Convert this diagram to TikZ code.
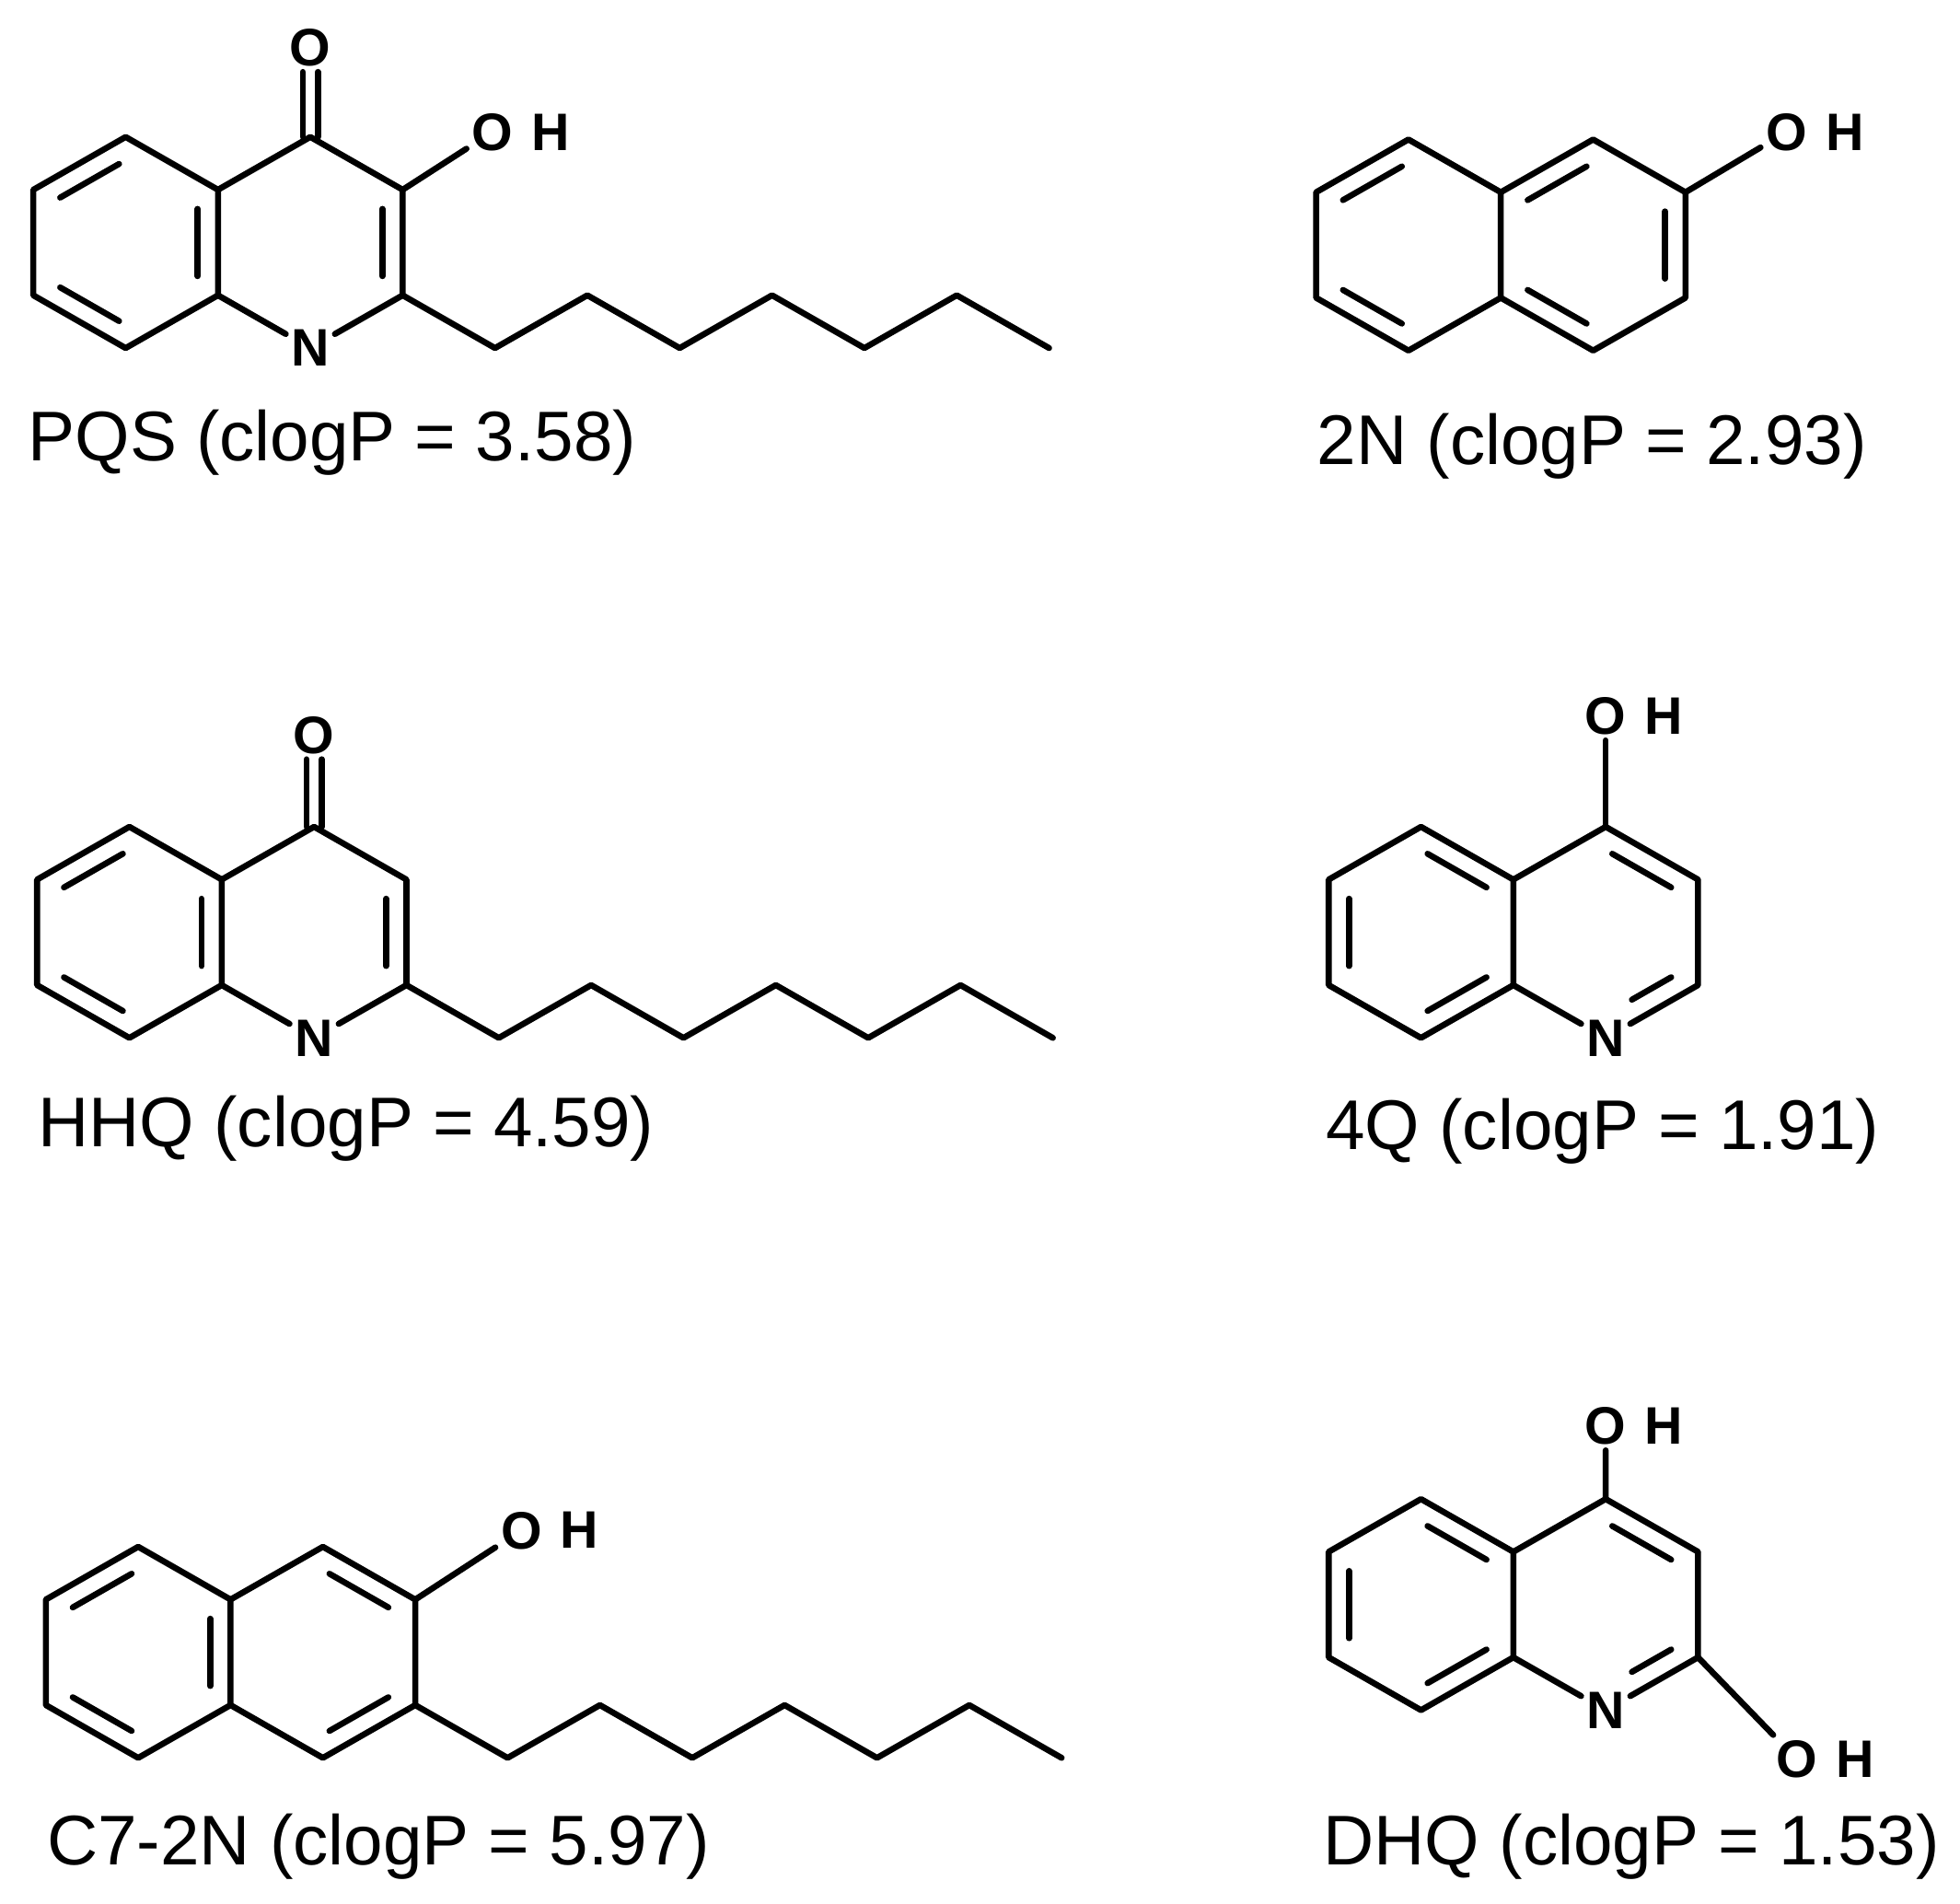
\documentclass[tikz,border=0pt]{standalone}
\usepackage{fontspec}
\setmainfont{Liberation Sans}
\usetikzlibrary{calc}
\newcommand\Lb{84}
\newcommand\Wb{73.5}
% ring: p1 top, p2 UL, p3 LL, p4 bottom, p5 LR, p6 UR, pc center
\newcommand\ring[3]{%
 \coordinate (#1c) at (#2,#3);
 \coordinate (#11) at (#2,#3-\Lb);
 \coordinate (#12) at (#2-\Wb,#3-\Lb/2);
 \coordinate (#13) at (#2-\Wb,#3+\Lb/2);
 \coordinate (#14) at (#2,#3+\Lb);
 \coordinate (#15) at (#2+\Wb,#3+\Lb/2);
 \coordinate (#16) at (#2+\Wb,#3-\Lb/2);}
\newcommand\inb[4][3]{\draw[bond,shorten <=3,shorten >=#1] ($(#4)!0.78!(#2)$) -- ($(#4)!0.78!(#3)$);}
\newcommand\chain[1]{\draw[bond] (#1) -- ++(\Wb,\Lb/2) -- ++(\Wb,-\Lb/2) -- ++(\Wb,\Lb/2) -- ++(\Wb,-\Lb/2) -- ++(\Wb,\Lb/2) -- ++(\Wb,-\Lb/2) -- ++(\Wb,\Lb/2);}
\tikzset{bond/.style={line width=2.4pt,line cap=round,line join=round},
 atom/.style={font=\fontsize{21}{24}\selectfont\bfseries,inner sep=2pt},
 lbl/.style={font=\fontsize{28}{32}\selectfont,anchor=west,inner sep=0pt}}
\begin{document}
\begin{tikzpicture}[x=0.5pt,y=-0.5pt]
\useasboundingbox (0,0) rectangle (1560,1515);
% ---------- PQS
\ring{a}{100}{193}\ring{b}{247}{193}
\node[atom] (aN) at (b4) {N};
\node[atom] (aO) at (247,38) {O};
\node[atom] (aOH) at (392,105) {O};
\node[atom,anchor=west] (aH) at ($(aOH.east)+(6,0)$) {H};
\draw[bond] (a1)--(a2)--(a3)--(a4)--(a5)--(a6)--cycle;
\draw[bond] (a5)--(aN)--(b5)--(b6)--(b1)--(a6);
\inb{a1}{a2}{ac}\inb{a3}{a4}{ac}\inb{a5}{a6}{ac}\inb{b5}{b6}{bc}
\draw[bond] ($(b1)+(-6,0)$)--($(aO.south)+(-6,0)$) ($(b1)+(6,0)$)--($(aO.south)+(6,0)$);
\draw[bond] (b6)--(aOH);
\chain{b5}
\node[lbl] (l1) at (22,352) {PQS (clogP = 3.58)};
% ---------- HHQ
\ring{c}{103}{742}\ring{d}{250}{742}
\node[atom] (cN) at (d4) {N};
\node[atom] (cO) at (250,585) {O};
\draw[bond] (c1)--(c2)--(c3)--(c4)--(c5)--(c6)--cycle;
\draw[bond] (c5)--(cN)--(d5)--(d6)--(d1)--(c6);
\inb{c1}{c2}{cc}\inb{c3}{c4}{cc}\inb{c5}{c6}{cc}\inb{d5}{d6}{dc}
\draw[bond] ($(d1)+(-6,0)$)--($(cO.south)+(-6,0)$) ($(d1)+(6,0)$)--($(cO.south)+(6,0)$);
\chain{d5}
\node[lbl] (l2) at (30,898) {HHQ (clogP = 4.59)};
% ---------- C7-2N
\ring{e}{110}{1315}\ring{f}{257}{1315}
\node[atom] (eOH) at (415,1218) {O};
\node[atom,anchor=west] (eH) at ($(eOH.east)+(6,0)$) {H};
\draw[bond] (e1)--(e2)--(e3)--(e4)--(e5)--(e6)--cycle;
\draw[bond] (e5)--(f4)--(f5)--(f6)--(f1)--(e6);
\inb{e1}{e2}{ec}\inb{e3}{e4}{ec}\inb{e5}{e6}{ec}\inb{f1}{f6}{fc}\inb{f5}{f4}{fc}
\draw[bond] (f6)--(eOH);
\chain{f5}
\node[lbl] (l3) at (37,1470) {C7-2N (clogP = 5.97)};
% ---------- 2N
\ring{g}{1121}{195}\ring{h}{1268}{195}
\node[atom] (gOH) at (1422,105) {O};
\node[atom,anchor=west] (gH) at ($(gOH.east)+(6,0)$) {H};
\draw[bond] (g1)--(g2)--(g3)--(g4)--(g5)--(g6)--cycle;
\draw[bond] (g5)--(h4)--(h5)--(h6)--(h1)--(g6);
\inb{g1}{g2}{gc}\inb{g3}{g4}{gc}\inb{h1}{h2}{hc}\inb{h3}{h4}{hc}\inb{h5}{h6}{hc}
\draw[bond] (h6)--(gOH);
\node[lbl] (l4) at (1048,355) {2N (clogP = 2.93)};
% ---------- 4Q
\ring{i}{1131}{742}\ring{j}{1278}{742}
\node[atom] (iN) at (j4) {N};
\node[atom] (iOH) at (1278,570) {O};
\node[atom,anchor=west] (iH) at ($(iOH.east)+(6,0)$) {H};
\draw[bond] (i1)--(i2)--(i3)--(i4)--(i5)--(i6)--cycle;
\draw[bond] (i5)--(iN)--(j5)--(j6)--(j1)--(i6);
\inb{i1}{i6}{ic}\inb{i2}{i3}{ic}\inb{i4}{i5}{ic}\inb{j1}{j6}{jc}\inb[12]{j5}{j4}{jc}
\draw[bond] (j1)--(iOH);
\node[lbl] (l5) at (1055,900) {4Q (clogP = 1.91)};
% ---------- DHQ
\ring{k}{1131}{1277}\ring{m}{1278}{1277}
\node[atom] (kN) at (m4) {N};
\node[atom] (kOH) at (1278,1135) {O};
\node[atom,anchor=west] (kH) at ($(kOH.east)+(6,0)$) {H};
\node[atom] (kOH2) at (1430,1400) {O};
\node[atom,anchor=west] (kH2) at ($(kOH2.east)+(6,0)$) {H};
\draw[bond] (k1)--(k2)--(k3)--(k4)--(k5)--(k6)--cycle;
\draw[bond] (k5)--(kN)--(m5)--(m6)--(m1)--(k6);
\inb{k1}{k6}{kc}\inb{k2}{k3}{kc}\inb{k4}{k5}{kc}\inb{m1}{m6}{mc}\inb[12]{m5}{m4}{mc}
\draw[bond] (m1)--(kOH) (m5)--(kOH2);
\node[lbl] (l6) at (1053,1470) {DHQ (clogP = 1.53)};
\end{tikzpicture}
\end{document}
